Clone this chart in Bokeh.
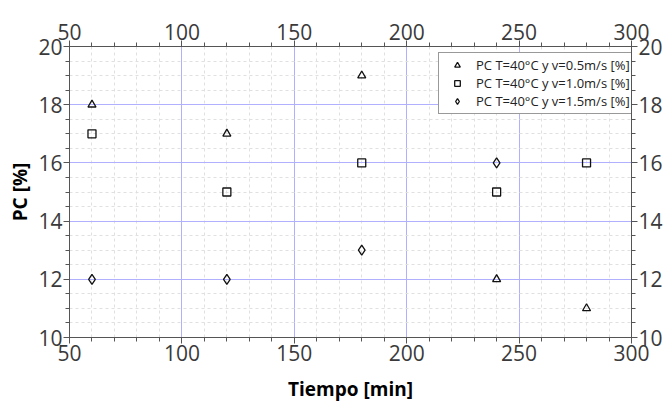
from bokeh.plotting import figure
from bokeh.models import LinearAxis, Range1d, Legend, LegendItem, FixedTicker
from bokeh.embed import file_html
from bokeh.resources import INLINE

t05 = [60, 120, 180, 240, 280]
pc05 = [18, 17, 19, 12, 11]
t10 = [60, 120, 180, 240, 280]
pc10 = [17, 15, 16, 15, 16]
t15 = [60, 120, 180, 240]
pc15 = [12, 12, 13, 16]
labels = ["PC T=40°C y v=0.5m/s [%]", "PC T=40°C y v=1.0m/s [%]", "PC T=40°C y v=1.5m/s [%]"]
xticks = [50, 100, 150, 200, 250, 300]
yticks = [10, 12, 14, 16, 18, 20]
xminor = list(range(50, 301, 10))
yminor = [10 + 0.5 * i for i in range(21)]

FONT = "Open Sans"
p = figure(width=665, height=404, output_backend="svg", toolbar_location=None,
           x_range=Range1d(50, 300), y_range=Range1d(10, 20),
           min_border_left=69, min_border_top=46, min_border_right=30, min_border_bottom=67)
p.outline_line_color = "#555555"

xb = p.xaxis[0]
xb.ticker = FixedTicker(ticks=xticks, minor_ticks=xminor)
yl = p.yaxis[0]
yl.ticker = FixedTicker(ticks=yticks, minor_ticks=yminor)
xt = LinearAxis()
xt.ticker = FixedTicker(ticks=xticks, minor_ticks=xminor)
yr = LinearAxis()
yr.ticker = FixedTicker(ticks=yticks, minor_ticks=yminor)
p.add_layout(xt, "above")
p.add_layout(yr, "right")
for ax in (xb, yl, xt, yr):
    ax.axis_line_color = "#555555"
    ax.major_tick_line_color = "#555555"
    ax.minor_tick_line_color = "#555555"
    ax.major_tick_out = 6
    ax.major_tick_in = 0
    ax.minor_tick_out = 4
    ax.minor_tick_in = 0
    ax.major_label_text_font = FONT
    ax.major_label_text_font_size = "21px"
    ax.major_label_text_color = "#3a3a3a"
    ax.major_label_standoff = 1

xb.axis_label = "Tiempo [min]"
yl.axis_label = "PC [%]"
for ax in (xb, yl):
    ax.axis_label_text_font = FONT
    ax.axis_label_text_font_style = "bold"
    ax.axis_label_text_font_size = "19px"
    ax.axis_label_text_color = "#000000"
xb.axis_label_standoff = 12
yl.axis_label_standoff = 2

for g in (p.xgrid[0], p.ygrid[0]):
    g.grid_line_color = "#b0b0ff"
    g.grid_line_width = 1
    g.minor_grid_line_color = "#e0e0e0"
    g.minor_grid_line_dash = "3 3"
    g.minor_grid_line_width = 1
p.xgrid[0].ticker = FixedTicker(ticks=xticks, minor_ticks=xminor)
p.ygrid[0].ticker = FixedTicker(ticks=yticks, minor_ticks=yminor)

r1 = p.scatter(t05, pc05, marker="triangle", size=8, fill_color=None, line_color="#111111", line_width=1.3)
r2 = p.scatter(t10, pc10, marker="square", size=8, fill_color=None, line_color="#111111", line_width=1.3)
r3 = p.scatter(t15, pc15, marker="diamond", size=10, fill_color=None, line_color="#111111", line_width=1.3)

legend = Legend(items=[LegendItem(label=labels[0], renderers=[r1]),
                       LegendItem(label=labels[1], renderers=[r2]),
                       LegendItem(label=labels[2], renderers=[r3])],
                location=(369, 223))
legend.label_text_font = FONT
legend.label_text_font_size = "13px"
legend.label_text_color = "#222222"
legend.label_height = 14
legend.glyph_height = 14
legend.glyph_width = 30
legend.spacing = 0
legend.padding = 3
legend.margin = 0
legend.border_line_color = "#333333"
legend.background_fill_alpha = 1
legend.label_standoff = 4
p.add_layout(legend)

open("out.html", "w").write(file_html(p, INLINE))
